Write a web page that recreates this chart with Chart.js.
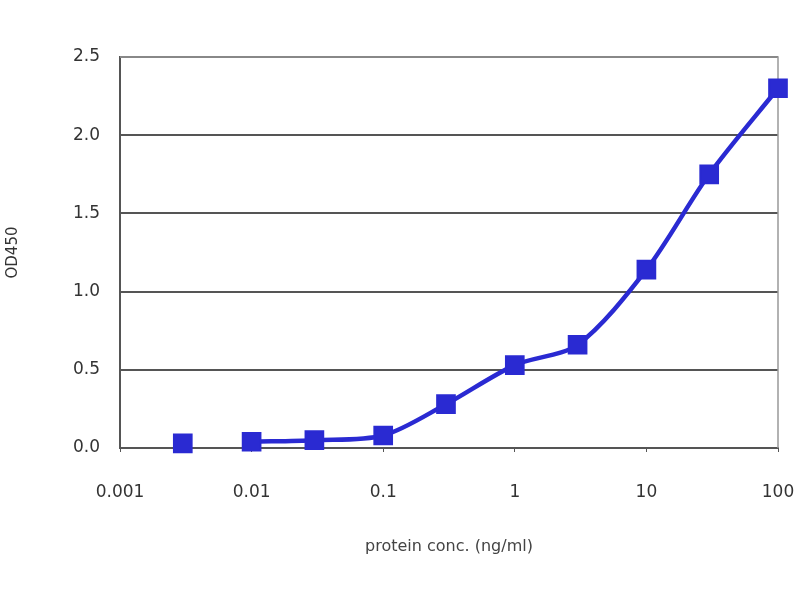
<!DOCTYPE html>
<html>
<head>
<meta charset="UTF-8">
<title>OD450 vs protein conc.</title>
<script src="https://cdn.jsdelivr.net/npm/chart.js"></script>
<style>
  body { margin: 0; background: #fff; }
  #wrap { width: 800px; height: 600px; }
</style>
</head>
<body>
<div id="wrap"><canvas id="c" width="800" height="600"></canvas></div>
<script>
// concentration (ng/ml) and OD450
const conc = [0.003, 0.01, 0.03, 0.1, 0.3, 1, 3, 10, 30, 100];
const od450 = [0.03, 0.04, 0.05, 0.08, 0.28, 0.53, 0.66, 1.14, 1.75, 2.30];
const xTicks = [0.001, 0.01, 0.1, 1, 10, 100];
const xTickLabels = ['0.001', '0.01', '0.1', '1', '10', '100'];
const yTicks = [0, 0.5, 1.0, 1.5, 2.0, 2.5];

const blue = '#2a2ad2';
// first point stands alone, the rest is joined by a smooth line
const lonePoint = [{ x: conc[0], y: od450[0] }];
const curve = conc.slice(1).map((c, i) => ({ x: c, y: od450[i + 1] }));

const frame = {
  id: 'frame',
  beforeDatasetsDraw(chart) {
    const a = chart.chartArea, ctx = chart.ctx;
    ctx.save();
    ctx.strokeStyle = '#999';
    ctx.lineWidth = 1.5;
    ctx.beginPath();
    ctx.moveTo(a.left, a.top);
    ctx.lineTo(a.right, a.top);
    ctx.lineTo(a.right, a.bottom);
    ctx.stroke();
    ctx.restore();
  }
};

const pointStyle = {
  showLine: false,
  clip: false,
  pointStyle: 'rect',
  pointRadius: 12.5,
  pointBorderWidth: 2,
  pointBackgroundColor: blue,
  pointBorderColor: blue,
  borderColor: blue
};

new Chart(document.getElementById('c'), {
  type: 'scatter',
  data: {
    datasets: [
      Object.assign({ data: lonePoint }, pointStyle),
      Object.assign({}, pointStyle, {
        data: curve,
        showLine: true,
        borderWidth: 4.5,
        tension: 0.3
      })
    ]
  },
  options: {
    responsive: false,
    animation: false,
    layout: { padding: { top: 57, right: 22, bottom: 40, left: 0 } },
    plugins: { legend: { display: false }, tooltip: { enabled: false } },
    scales: {
      x: {
        type: 'logarithmic',
        min: 0.001,
        max: 100,
        afterBuildTicks(s) { s.ticks = xTicks.map(v => ({ value: v })); },
        afterFit(s) { s.height = 112; s.paddingLeft = 0; s.paddingRight = 0; },
        ticks: {
          callback: (v) => xTickLabels[xTicks.indexOf(v)],
          color: '#333',
          font: { family: 'DejaVu Sans', size: 17 },
          padding: 30,
          maxRotation: 0,
          autoSkip: false
        },
        grid: { drawOnChartArea: false, color: '#555', tickLength: 4 },
        border: { color: '#555', width: 2 },
        title: {
          display: true,
          text: 'protein conc. (ng/ml)',
          color: '#444',
          font: { family: 'DejaVu Sans', size: 16 },
          padding: { top: 18 }
        }
      },
      y: {
        min: 0,
        max: 2.5,
        afterBuildTicks(s) { s.ticks = yTicks.map(v => ({ value: v })); },
        afterFit(s) { s.width = 120; },
        ticks: {
          callback: (v) => v.toFixed(1),
          color: '#333',
          font: { family: 'DejaVu Sans', size: 17 },
          padding: 20
        },
        grid: { color: '#555', lineWidth: 2, drawTicks: false },
        border: { color: '#555', width: 2 },
        title: {
          display: true,
          text: 'OD450',
          color: '#333',
          font: { family: 'DejaVu Sans', size: 15 },
          padding: { bottom: 30 }
        }
      }
    }
  },
  plugins: [frame]
});
</script>
</body>
</html>
